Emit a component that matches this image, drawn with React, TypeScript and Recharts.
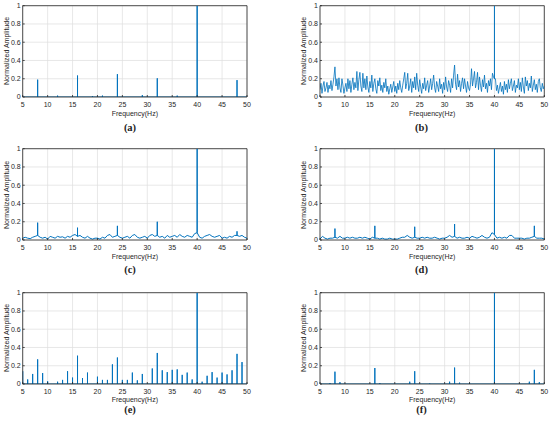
import React from 'react';
import { LineChart, Line, XAxis, YAxis, CartesianGrid, ReferenceLine } from 'recharts';

const FREQ_TICKS = [5, 10, 15, 20, 25, 30, 35, 40, 45, 50];
const AMP_TICKS = [0, 0.2, 0.4, 0.6, 0.8, 1];
const CAPTIONS = ['(a)', '(b)', '(c)', '(d)', '(e)', '(f)'];
const X_LABEL = 'Frequency(Hz)';
const Y_LABEL = 'Normalized Amplitude';

// (a) clean stems
const stemFreqA = [8, 12, 16, 19, 21, 24, 29, 32, 36, 40, 48];
const stemAmpA = [0.19, 0.015, 0.235, 0.01, 0.015, 0.25, 0.02, 0.205, 0.015, 1.0, 0.185];

// (b) noisy spectrum, 0.2 Hz resolution from 5 Hz
const noiseStartB = 5;
const noiseStepB = 0.2;
const noiseB = [
  0.08, 0.15, 0.04, 0.12, 0.17,
  0.06, 0.1, 0.16, 0.05, 0.13,
  0.09, 0.18, 0.07, 0.14, 0.22,
  0.33, 0.12, 0.2, 0.08, 0.21,
  0.1, 0.05, 0.2, 0.13, 0.04,
  0.1, 0.15, 0.06, 0.2, 0.09,
  0.18, 0.05, 0.14, 0.21, 0.08,
  0.16, 0.1, 0.28, 0.07, 0.19,
  0.27, 0.12, 0.06, 0.26, 0.1,
  0.2, 0.08, 0.23, 0.11, 0.05,
  0.17, 0.1, 0.24, 0.06, 0.15,
  0.2, 0.09, 0.04, 0.18, 0.12,
  0.21, 0.07, 0.13, 0.05, 0.16,
  0.1, 0.2, 0.06, 0.12, 0.03,
  0.09, 0.14, 0.05, 0.11, 0.17,
  0.06, 0.12, 0.04, 0.15, 0.08,
  0.18, 0.1, 0.05, 0.13, 0.2,
  0.27, 0.09, 0.15, 0.26, 0.07,
  0.12, 0.2, 0.05, 0.17, 0.1,
  0.22, 0.08, 0.26, 0.13, 0.06,
  0.19, 0.11, 0.04, 0.15, 0.09,
  0.21, 0.07, 0.13, 0.18, 0.05,
  0.12, 0.2, 0.08, 0.15, 0.24,
  0.1, 0.05, 0.17, 0.12, 0.06,
  0.2, 0.09, 0.14, 0.04, 0.16,
  0.08, 0.22, 0.11, 0.06, 0.18,
  0.13, 0.05, 0.2, 0.1, 0.24,
  0.35, 0.14, 0.08, 0.25, 0.11,
  0.18, 0.06, 0.15, 0.21, 0.09,
  0.2, 0.12, 0.05, 0.17, 0.1,
  0.07, 0.14, 0.31, 0.12, 0.2,
  0.28, 0.1, 0.16, 0.27, 0.08,
  0.22, 0.13, 0.06, 0.19, 0.11,
  0.24, 0.09, 0.15, 0.05, 0.18,
  0.12, 0.2, 0.08, 0.26, 0.22,
  0.2, 0.2, 0.07, 0.13, 0.04,
  0.1, 0.16, 0.06, 0.12, 0.03,
  0.17, 0.08, 0.14, 0.05, 0.19,
  0.09, 0.15, 0.2, 0.07, 0.12,
  0.18, 0.05, 0.13, 0.1, 0.2,
  0.08, 0.16, 0.06, 0.21, 0.11,
  0.04, 0.22, 0.12, 0.18, 0.07,
  0.15, 0.1, 0.23, 0.06, 0.13,
  0.19, 0.08, 0.14, 0.05, 0.17,
  0.2, 0.1, 0.06, 0.15, 0.09,
  0.12,
];
const spikeFreqB = [40];
const spikeAmpB = [1.0];

// (c) low noise floor, 0.5 Hz resolution, plus spikes
const floorStartC = 5;
const floorStepC = 0.5;
const floorC = [
  0.02, 0.03, 0.02, 0.015, 0.03, 0.04, 0.05, 0.03, 0.02, 0.03,
  0.01, 0.04, 0.03, 0.02, 0.04, 0.03, 0.035, 0.02, 0.04, 0.03,
  0.05, 0.06, 0.04, 0.05, 0.03, 0.02, 0.04, 0.02, 0.01, 0.02,
  0.02, 0.01, 0.03, 0.02, 0.05, 0.06, 0.03, 0.04, 0.05, 0.03,
  0.02, 0.03, 0.04, 0.02, 0.05, 0.06, 0.03, 0.02, 0.03, 0.04,
  0.02, 0.05, 0.06, 0.04, 0.05, 0.03, 0.04, 0.02, 0.05, 0.03,
  0.04, 0.05, 0.03, 0.06, 0.04, 0.03, 0.05, 0.04, 0.03, 0.07,
  0.08, 0.03, 0.02, 0.04, 0.05, 0.06, 0.04, 0.03, 0.04, 0.05,
  0.02, 0.03, 0.02, 0.04, 0.03, 0.05, 0.05, 0.04, 0.05, 0.03,
  0.02,
];
const spikeFreqC = [8, 16, 24, 32, 40, 48];
const spikeAmpC = [0.19, 0.135, 0.155, 0.2, 1.0, 0.095];

// (d)
const floorStartD = 5;
const floorStepD = 0.5;
const floorD = [
  0.01, 0.04, 0.02, 0.01, 0.02, 0.02, 0.03, 0.02, 0.04, 0.02,
  0.02, 0.03, 0.02, 0.03, 0.02, 0.02, 0.03, 0.02, 0.03, 0.02,
  0.01, 0.03, 0.02, 0.02, 0.01, 0.02, 0.01, 0.01, 0.02, 0.01,
  0.01, 0.01, 0.02, 0.03, 0.03, 0.05, 0.03, 0.02, 0.03, 0.02,
  0.02, 0.03, 0.02, 0.03, 0.02, 0.02, 0.03, 0.02, 0.01, 0.02,
  0.02, 0.03, 0.05, 0.03, 0.04, 0.02, 0.03, 0.02, 0.02, 0.03,
  0.02, 0.04, 0.03, 0.02, 0.03, 0.05, 0.03, 0.02, 0.03, 0.08,
  0.06, 0.02, 0.03, 0.02, 0.03, 0.02, 0.05, 0.05, 0.02, 0.02,
  0.02, 0.02, 0.01, 0.02, 0.02, 0.03, 0.04, 0.02, 0.02, 0.02,
  0.01,
];
const spikeFreqD = [8, 16, 24, 32, 40, 48];
const spikeAmpD = [0.125, 0.155, 0.145, 0.175, 1.0, 0.155];

// (e) integer-frequency stems
const stemFreqE = [5, 6, 7, 8, 9, 10, 12, 13, 14, 15, 16, 17, 18, 20, 21, 22, 23, 24, 25, 26, 27, 28, 29, 31, 32, 33, 34, 35, 36, 37, 38, 39, 40, 41, 42, 43, 44, 45, 46, 47, 48, 49];
const stemAmpE = [0.14, 0.05, 0.11, 0.27, 0.12, 0.03, 0.025, 0.045, 0.14, 0.07, 0.31, 0.065, 0.125, 0.08, 0.045, 0.045, 0.215, 0.29, 0.045, 0.045, 0.125, 0.04, 0.11, 0.17, 0.34, 0.15, 0.13, 0.155, 0.16, 0.1, 0.125, 0.05, 1.0, 0.025, 0.09, 0.13, 0.07, 0.125, 0.105, 0.15, 0.33, 0.24];

// (f)
const stemFreqF = [7, 8, 9, 16, 17, 23, 24, 27, 31, 32, 33, 35, 40, 47, 48, 49];
const stemAmpF = [0.01, 0.135, 0.02, 0.175, 0.01, 0.025, 0.14, 0.005, 0.025, 0.18, 0.015, 0.008, 1.0, 0.025, 0.155, 0.02];

type Pt = { f: number; a: number };

function stems(freqs: number[], amps: number[]): Pt[] {
  const pts: Pt[] = [{ f: 5, a: 0 }];
  freqs.forEach((f, i) => {
    pts.push({ f, a: 0 }, { f, a: amps[i] }, { f, a: 0 });
  });
  pts.push({ f: 50, a: 0 });
  return pts;
}

function floorWithSpikes(start: number, step: number, floor: number[], sf: number[], sa: number[]): Pt[] {
  const pts: Pt[] = [];
  floor.forEach((v, i) => {
    const f = Math.round((start + i * step) * 1000) / 1000;
    const k = sf.findIndex((p) => Math.abs(p - f) < 1e-6);
    if (k >= 0) pts.push({ f, a: v }, { f, a: sa[k] }, { f, a: v });
    else pts.push({ f, a: v });
  });
  return pts;
}

const SERIES: Pt[][] = [
  stems(stemFreqA, stemAmpA),
  floorWithSpikes(noiseStartB, noiseStepB, noiseB, spikeFreqB, spikeAmpB),
  floorWithSpikes(floorStartC, floorStepC, floorC, spikeFreqC, spikeAmpC),
  floorWithSpikes(floorStartD, floorStepD, floorD, spikeFreqD, spikeAmpD),
  stems(stemFreqE, stemAmpE),
  stems(stemFreqF, stemAmpF),
];

const AX = '#262626';
const BLUE = '#0072BD';
const SANS = '"Liberation Sans", Arial, Helvetica, sans-serif';
const SERIF = '"Liberation Serif", "Times New Roman", serif';

const COL = [
  { left: 0, yw: 22.7, mr: 28, plotL: 22.7, plotR: 247, cap: 130, yl: 5.5 },
  { left: 275, yw: 45, mr: 5.7, plotL: 320, plotR: 544.3, cap: 421.5, yl: 303.3 },
];
const ROW = [
  { top: 0, plotT: 5.7, xl: 113, cap: 128 },
  { top: 143.3, plotT: 149, xl: 256, cap: 270 },
  { top: 286.6, plotT: 292.3, xl: 399, cap: 410 },
];
const PLOT_H = 91.3;
const CH_H = 140;

function Panel({ idx }: { idx: number }) {
  const c = COL[idx % 2];
  const r = ROW[Math.floor(idx / 2)];
  const data = SERIES[idx];
  const tickStyle = { fontSize: 7, fill: AX, fontFamily: SANS };
  return (
    <div style={{ position: 'absolute', left: c.left, top: r.top, width: 275, height: CH_H }}>
      <LineChart
        width={275}
        height={CH_H}
        data={data}
        margin={{ top: 5.7, right: c.mr, bottom: 0, left: 0 }}
      >
        <CartesianGrid stroke="#dedede" strokeWidth={0.7} />
        <XAxis
          dataKey="f"
          type="number"
          domain={[5, 50]}
          ticks={FREQ_TICKS}
          interval={0}
          allowDataOverflow
          height={CH_H - 5.7 - PLOT_H}
          tickSize={-2}
          tickMargin={7}
          stroke={AX}
          strokeWidth={0.8}
          tick={tickStyle}
        />
        <XAxis
          xAxisId="top"
          orientation="top"
          dataKey="f"
          type="number"
          domain={[5, 50]}
          ticks={FREQ_TICKS}
          interval={0}
          allowDataOverflow
          height={0}
          tickSize={-2}
          tick={false}
          stroke={AX}
          strokeWidth={0.8}
        />
        <YAxis
          type="number"
          domain={[0, 1]}
          ticks={AMP_TICKS}
          interval={0}
          allowDataOverflow
          width={c.yw}
          tickSize={-2}
          tickMargin={4}
          stroke={AX}
          strokeWidth={0.8}
          tick={tickStyle}
        />
        <YAxis
          yAxisId="right"
          orientation="right"
          type="number"
          domain={[0, 1]}
          ticks={AMP_TICKS}
          interval={0}
          allowDataOverflow
          width={0}
          tickSize={-2}
          tick={false}
          stroke={AX}
          strokeWidth={0.8}
        />
        <ReferenceLine y={1} stroke={AX} strokeWidth={0.8} ifOverflow="visible" />
        <ReferenceLine x={50} stroke={AX} strokeWidth={0.8} ifOverflow="visible" />
        <Line
          dataKey="a"
          type="linear"
          stroke={BLUE}
          strokeWidth={idx === 1 ? 0.8 : 1}
          dot={false}
          activeDot={false}
          isAnimationActive={false}
        />
      </LineChart>
    </div>
  );
}

export default function App() {
  return (
    <div style={{ position: 'absolute', left: 0, top: 0, width: 550, height: 424, background: '#fff', overflow: 'hidden' }}>
      {[0, 1, 2, 3, 4, 5].map((i) => (
        <Panel key={i} idx={i} />
      ))}
      {[0, 1, 2, 3, 4, 5].map((i) => {
        const c = COL[i % 2];
        const r = ROW[Math.floor(i / 2)];
        const cx = (c.plotL + c.plotR) / 2;
        const cy = r.plotT + PLOT_H / 2;
        return (
          <React.Fragment key={'t' + i}>
            <div
              style={{
                position: 'absolute', left: cx, top: r.xl, transform: 'translate(-50%, -50%)',
                fontFamily: SANS, fontSize: 7, color: AX, whiteSpace: 'nowrap', lineHeight: '9px',
              }}
            >
              {X_LABEL}
            </div>
            <div
              style={{
                position: 'absolute', left: c.yl, top: cy, transform: 'translate(-50%, -50%) rotate(-90deg)',
                fontFamily: SANS, fontSize: 7, color: AX, whiteSpace: 'nowrap', lineHeight: '9px',
              }}
            >
              {Y_LABEL}
            </div>
            <div
              style={{
                position: 'absolute', left: c.cap, top: r.cap, transform: 'translate(-50%, -50%)',
                fontFamily: SERIF, fontSize: 10.5, fontWeight: 'bold', color: '#222', whiteSpace: 'nowrap', lineHeight: '12px',
              }}
            >
              {CAPTIONS[i]}
            </div>
          </React.Fragment>
        );
      })}
    </div>
  );
}
